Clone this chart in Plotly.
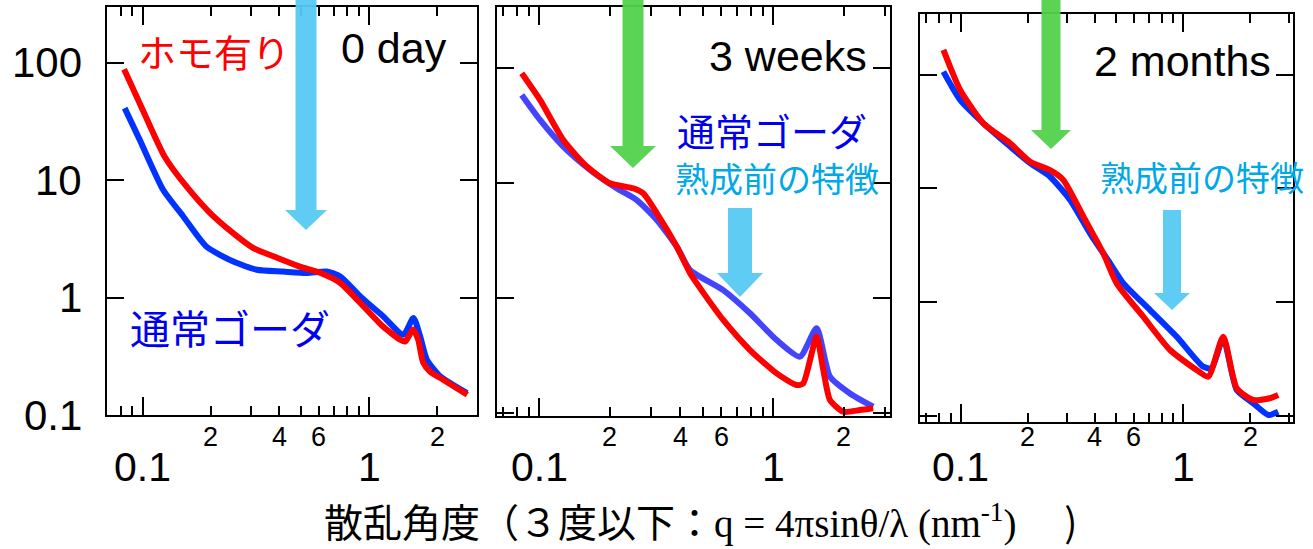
import plotly.graph_objects as go
import math

W, H = 1313, 549

# ---------------- data (q in nm^-1, intensity) ----------------
q_red_0day = [0.0827, 0.100, 0.125, 0.156, 0.198, 0.250, 0.307, 0.392, 0.495, 0.607, 0.744, 0.912,
              1.153, 1.371, 1.443, 1.566, 1.648, 1.734, 1.862, 2.125, 2.716]
i_red_0day = [88.4, 39.8, 15.9, 8.86, 5.29, 3.57, 2.66, 2.19, 1.84, 1.63, 1.34, 0.906,
              0.567, 0.439, 0.422, 0.535, 0.439, 0.280, 0.234, 0.200, 0.149]
q_blue_0day = [0.0832, 0.097, 0.123, 0.151, 0.191, 0.250, 0.319, 0.416, 0.530, 0.650, 0.744, 0.912,
               1.153, 1.418, 1.571, 1.681, 1.80, 2.06, 2.71]
i_blue_0day = [41.2, 22.1, 8.30, 4.92, 2.73, 2.04, 1.73, 1.67, 1.62, 1.67, 1.52, 1.03,
               0.693, 0.484, 0.672, 0.469, 0.297, 0.214, 0.154]

q_red_3w = [0.0841, 0.1007, 0.1266, 0.1596, 0.2005, 0.252, 0.278, 0.318, 0.387, 0.441, 0.471, 0.611,
            0.795, 1.034, 1.259, 1.343, 1.532, 1.636, 1.747, 1.991, 2.345, 2.673]
i_red_3w = [89.9, 52.7, 23.6, 13.9, 9.94, 8.99, 8.13, 5.45, 2.79, 1.64, 1.34, 0.644,
            0.353, 0.221, 0.175, 0.181, 0.461, 0.237, 0.130, 0.1026, 0.106, 0.110]
q_blue_3w = [0.0841, 0.1007, 0.1266, 0.1647, 0.214, 0.261, 0.318, 0.387, 0.441, 0.611, 0.795, 1.034,
             1.30, 1.532, 1.747, 2.128, 2.673]
i_blue_3w = [58.2, 35.3, 20.7, 13.0, 9.0, 7.11, 4.77, 2.79, 1.75, 1.17, 0.736, 0.431,
             0.309, 0.545, 0.207, 0.148, 0.1135]

q_red_2m = [0.0836, 0.0896, 0.0994, 0.1264, 0.1667, 0.205, 0.252, 0.289, 0.356, 0.437, 0.502, 0.661,
            0.872, 1.148, 1.295, 1.512, 1.738, 2.062, 2.449, 2.67]
i_red_2m = [166, 118, 73.8, 37.5, 25.0, 17.2, 14.5, 11.9, 5.64, 2.69, 1.46, 0.742,
            0.378, 0.252, 0.220, 0.495, 0.174, 0.137, 0.142, 0.152]
q_blue_2m = [0.0836, 0.0994, 0.1264, 0.1667, 0.205, 0.252, 0.310, 0.381, 0.469, 0.538, 0.709, 0.934,
             1.23, 1.341, 1.512, 1.738, 2.062, 2.41, 2.67]
i_blue_2m = [107, 60.2, 37.5, 23.4, 16.7, 12.7, 7.92, 4.03, 2.19, 1.46, 0.850, 0.495,
             0.269, 0.261, 0.479, 0.168, 0.128, 0.101, 0.108]

panel_titles = ["0 day", "3 weeks", "2 months"]
y_tick_labels = ["0.1", "1", "10", "100"]
y_tick_vals = [0.1, 1, 10, 100]
x_minor_labels = ["2", "4", "6", "2"]
x_minor_label_vals = [0.2, 0.4, 0.6, 2]
x_major_labels = ["0.1", "1"]
x_major_label_vals = [0.1, 1]

# ---------------- layout geometry (pixels) ----------------
panels = [
    dict(x0=107, x1=477, y0=7, y1=415, xr=[-1.158, 0.477], yr=[-1.0, 2.477]),
    dict(x0=497, x1=890, y0=7, y1=416, xr=[-1.181, 0.499], yr=[-1.026, 2.530]),
    dict(x0=920, x1=1293, y0=14, y1=422, xr=[-1.183, 0.493], yr=[-1.057, 2.537]),
]

def px(x):
    return x / W

def py(y):
    return 1 - y / H

RED = "#FF0000"
BLUE = ["#0033FF", "#4444FF", "#0033FF"]
LBLUE = "#56C9F3"
GREEN = "#52D14C"

fig = go.Figure()

series = [
    (q_red_0day, i_red_0day, q_blue_0day, i_blue_0day),
    (q_red_3w, i_red_3w, q_blue_3w, i_blue_3w),
    (q_red_2m, i_red_2m, q_blue_2m, i_blue_2m),
]

minor_vals = [0.07, 0.08, 0.09, 0.2, 0.3, 0.4, 0.5, 0.6, 0.7, 0.8, 0.9, 2, 3]

for k, (p, (qr, ir, qb, ib)) in enumerate(zip(panels, series)):
    n = "" if k == 0 else str(k + 1)
    xa = "x" + n
    ya = "y" + n
    fig.add_trace(go.Scatter(x=qb, y=ib, mode="lines", xaxis=xa, yaxis=ya,
                             line=dict(color=BLUE[k], width=6, shape="spline", smoothing=0.6),
                             showlegend=False))
    fig.add_trace(go.Scatter(x=qr, y=ir, mode="lines", xaxis=xa, yaxis=ya,
                             line=dict(color=RED, width=6, shape="spline", smoothing=0.6),
                             showlegend=False))
    common = dict(type="log", showgrid=False, zeroline=False, showline=True, linecolor="black",
                  linewidth=2, mirror="ticks", ticks="inside", tickcolor="black", tickwidth=2,
                  showticklabels=False)
    fig.layout["xaxis" + n] = dict(domain=[px(p["x0"]), px(p["x1"])], range=p["xr"], anchor=ya,
                                   tickvals=[0.1, 1], ticklen=18,
                                   minor=dict(tickvals=minor_vals, ticks="inside", ticklen=9,
                                              tickcolor="black", tickwidth=2),
                                   **common)
    fig.layout["yaxis" + n] = dict(domain=[py(p["y1"]), py(p["y0"])], range=p["yr"], anchor=xa,
                                   tickvals=y_tick_vals, ticklen=17, **common)

    # x tick labels (two rows)
    for v, t in zip(x_minor_label_vals, x_minor_labels):
        fig.add_annotation(x=math.log10(v), xref=xa, y=py(437), yref="paper", text=t,
                           showarrow=False, font=dict(size=27, color="black", family="Liberation Sans"),
                           xanchor="center", yanchor="middle")
    for v, t in zip(x_major_label_vals, x_major_labels):
        fig.add_annotation(x=math.log10(v), xref=xa, y=py(467), yref="paper", text=t,
                           showarrow=False, font=dict(size=41, color="black", family="Liberation Sans"),
                           xanchor="center", yanchor="middle")

# y tick labels for first panel
for v, t in zip(y_tick_vals, y_tick_labels):
    fig.add_annotation(x=px(84), xref="paper", y=math.log10(v), yref="y", text=t,
                       showarrow=False, font=dict(size=42, color="black", family="Liberation Sans"),
                       xanchor="right", yanchor="middle")

# panel titles
title_pos = [(394, 48), (788, 56), (1182, 61)]
for t, (x, y) in zip(panel_titles, title_pos):
    fig.add_annotation(x=px(x), y=py(y), xref="paper", yref="paper", text=t, showarrow=False,
                       font=dict(size=43, color="black", family="Liberation Sans"),
                       xanchor="center", yanchor="middle")

JP = "Noto Sans CJK JP"
texts = [
    ("ホモ有り", 214, 51, 38, "#FF0000"),
    ("通常ゴーダ", 230, 327, 40, "#0000F0"),
    ("通常ゴーダ", 772, 129, 38, "#0000F0"),
    ("熟成前の特徴", 777, 177, 34, "#00A8E8"),
    ("熟成前の特徴", 1202, 176, 34, "#00A8E8"),
]
for t, x, y, s, c in texts:
    fig.add_annotation(x=px(x), y=py(y), xref="paper", yref="paper", text=t, showarrow=False,
                       font=dict(size=s, color=c, family=JP), xanchor="center", yanchor="middle")

# arrows: (center x, shaft half width, top y, head start y, head half width, tip y, colour)
arrows = [
    (306, 10.5, -5, 210, 21, 230, LBLUE),
    (633, 10.5, -5, 146, 23, 168, GREEN),
    (740, 12, 208, 273, 23, 297, LBLUE),
    (1051, 9.5, -5, 130, 20, 149, GREEN),
    (1172, 9, 210, 293, 18, 310, LBLUE),
]
for cx, sw, ty, hy, hw, tip, col in arrows:
    pts = [(cx - sw, ty), (cx + sw, ty), (cx + sw, hy), (cx + hw, hy), (cx, tip),
           (cx - hw, hy), (cx - sw, hy)]
    path = "M " + " L ".join(f"{px(a):.5f},{py(b):.5f}" for a, b in pts) + " Z"
    fig.add_shape(type="path", path=path, xref="paper", yref="paper", fillcolor=col,
                  line=dict(width=0), layer="above", opacity=0.95)

# x axis title
title_html = ('<span style="font-family:\'Noto Sans CJK JP\'">散乱角度（３度以下：</span>'
              '<span style="font-family:\'Liberation Serif\'">q = 4πsinθ/λ (nm<sup>-1</sup>)</span>'
              '<span style="font-family:\'Noto Sans CJK JP\'">　 )</span>')
fig.add_annotation(x=px(700), y=py(520), xref="paper", yref="paper", text=title_html,
                   showarrow=False, font=dict(size=39, color="black", family="Noto Sans CJK JP"),
                   xanchor="center", yanchor="middle")

fig.update_layout(width=W, height=H, margin=dict(l=0, r=0, t=0, b=0),
                  paper_bgcolor="white", plot_bgcolor="white", showlegend=False)

fig.write_html("out.html")
